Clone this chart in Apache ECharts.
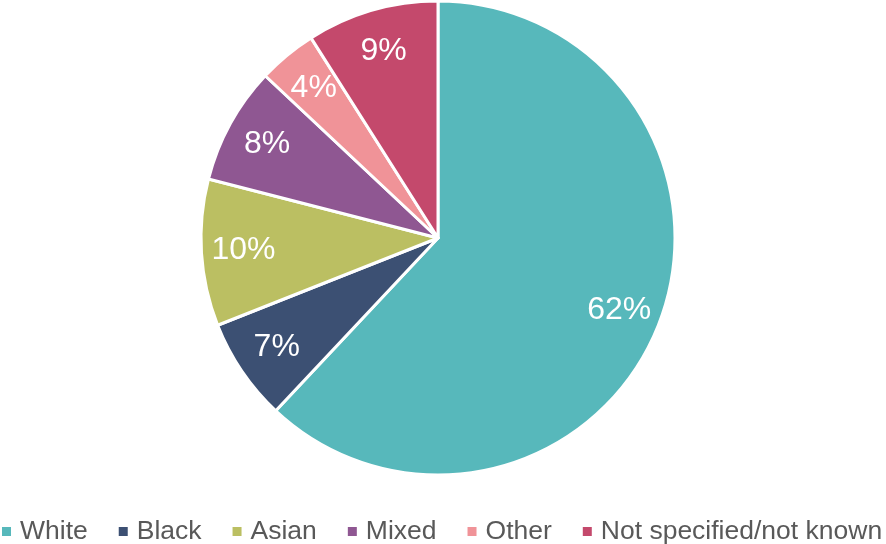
<!DOCTYPE html>
<html>
<head>
<meta charset="utf-8">
<script src="https://cdn.jsdelivr.net/npm/echarts@6/dist/echarts.min.js"></script>
<style>html,body{margin:0;padding:0;background:#fff}#c{width:886px;height:544px}</style>
</head>
<body>
<div id="c"></div>
<script>
const categories = ["White", "Black", "Asian", "Mixed", "Other", "Not specified/not known"];
const values = [62, 7, 10, 8, 4, 9];
const colors = ["#57B8BB", "#3C5073", "#BBBF62", "#8F5792", "#F09398", "#C4496C"];

const chart = echarts.init(document.getElementById('c'), null, {renderer: 'canvas'});
const R = 237;
const data = categories.map((n, i) => ({name: n, value: values[i], itemStyle: {color: colors[i]}}));
chart.setOption({
  animation: false,
  backgroundColor: '#ffffff',
  legend: {
    data: categories,
    left: 2,
    top: 518,
    width: 1200,
    padding: 0,
    icon: 'rect',
    itemWidth: 9,
    itemHeight: 9,
    itemGap: 31,
    itemStyle: {borderWidth: 0, borderColor: 'rgba(0,0,0,0)'},
    textStyle: {fontFamily: 'Liberation Sans, Arial, sans-serif', fontSize: 26.5, color: '#595959', padding: [0, 0, 0, 4]}
  },
  series: [
    {
      type: 'pie',
      center: [438, 238],
      radius: [0, R],
      startAngle: 90,
      clockwise: true,
      data: data,
      label: {show: false},
      labelLine: {show: false},
      itemStyle: {borderColor: '#ffffff', borderWidth: 3},
      emphasis: {disabled: true}
    },
    {
      type: 'pie',
      center: [438, 238],
      radius: [R * 0.62, R],
      startAngle: 90,
      clockwise: true,
      silent: true,
      data: categories.map((n, i) => ({name: n, value: values[i]})),
      itemStyle: {color: 'rgba(0,0,0,0)', borderWidth: 0},
      label: {
        show: true,
        position: 'inside',
        formatter: '{c}%',
        color: '#ffffff',
        fontFamily: 'Liberation Sans, Arial, sans-serif',
        fontSize: 32
      },
      labelLine: {show: false},
      emphasis: {disabled: true}
    }
  ]
});
</script>
</body>
</html>
